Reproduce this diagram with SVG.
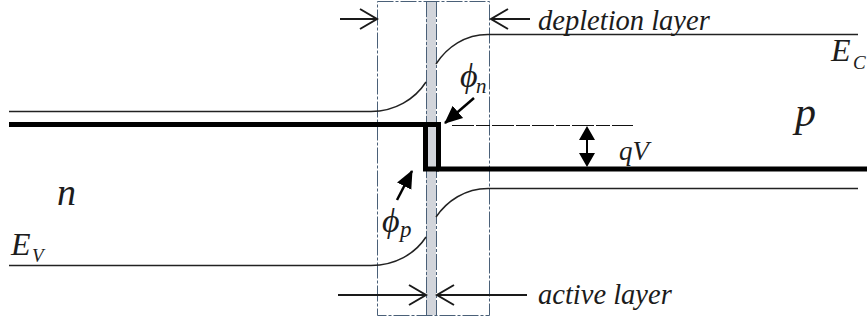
<svg xmlns="http://www.w3.org/2000/svg" width="867" height="323" viewBox="0 0 867 323">
<defs>
<marker id="open" viewBox="0 0 20 24" refX="18" refY="12" markerWidth="20" markerHeight="24" markerUnits="userSpaceOnUse" orient="auto"><path d="M1 2L18 12L1 22" fill="none" stroke="#1a1a1a" stroke-width="2"/></marker>
<marker id="solid" viewBox="0 0 18 18" refX="17" refY="9" markerWidth="18" markerHeight="18" markerUnits="userSpaceOnUse" orient="auto"><path d="M0 1L18 9L0 17Z" fill="#000"/></marker>
</defs>
<style>
.thin{fill:none;stroke:#222;stroke-width:1.5}
.thick{fill:none;stroke:#000;stroke-width:5}
.dash{fill:none;stroke:#4a6078;stroke-width:1;stroke-dasharray:16 2 3 2}
.it{font-family:"Liberation Serif",serif;font-style:italic;fill:#1c1c1c}
.arrow{fill:none;stroke:#1a1a1a;stroke-width:2}
.bold{fill:none;stroke:#000;stroke-width:2.5}
</style>
<g id="active-band"><rect x="426" y="1" width="10" height="314" fill="#d2d5db"/><path class="dash" d="M426.500 1V315M436.500 1V315"/></g>
<g id="depletion-box"><rect class="dash" x="377.500" y="1.500" width="112" height="314"/></g>
<g id="connectors">
<path class="thin" d="M9 111.500H371C395 111.500 415 99 426 82"/>
<path class="thin" d="M436 64C447 47 465 34.500 488 34.500H858"/>
<path class="thin" d="M9 265.500H371C395 265.500 415 254 426 237"/>
<path class="thin" d="M436 217C447 201 465 188.500 488 188.500H858"/>
<path class="thick" d="M9 124.500H438.500V169H867"/>
<path class="thick" d="M425.500 124.500V169H439"/>
<path d="M452 125.500H633" fill="none" stroke="#111" stroke-width="1.2" stroke-dasharray="22 2 14 2"/>
<path class="arrow" d="M340 19H377" marker-end="url(#open)"/>
<path class="arrow" d="M530 19H491" marker-end="url(#open)"/>
<path class="arrow" d="M338 295H426" marker-end="url(#open)"/>
<path class="arrow" d="M527 295H437" marker-end="url(#open)"/>
<path class="bold" d="M474 98L445 123" marker-end="url(#solid)"/>
<path class="bold" d="M397 200L412 171" marker-end="url(#solid)"/>
<path fill="#000" d="M587 126L595 140H588V153H595L587 167L579 153H586V140H579Z"/>
</g>
<g id="labels">
<text class="it" x="538" y="30" font-size="28.500">depletion layer</text>
<text class="it" x="538" y="304" font-size="28.500">active layer</text>
<text class="it" x="831" y="61" font-size="32">E</text>
<text class="it" x="853" y="69" font-size="19">C</text>
<text class="it" x="11" y="255" font-size="32">E</text>
<text class="it" x="32" y="262" font-size="19">V</text>
<text class="it" x="795" y="126" font-size="42">p</text>
<text class="it" x="57" y="205" font-size="38">n</text>
<text class="it" x="619" y="160" font-size="27">qV</text>
<text class="it" x="460" y="87" font-size="34">ϕ</text>
<text class="it" x="476" y="93" font-size="21">n</text>
<text class="it" x="382" y="232" font-size="34">ϕ</text>
<text class="it" x="400" y="237" font-size="23">p</text>
</g>
</svg>
